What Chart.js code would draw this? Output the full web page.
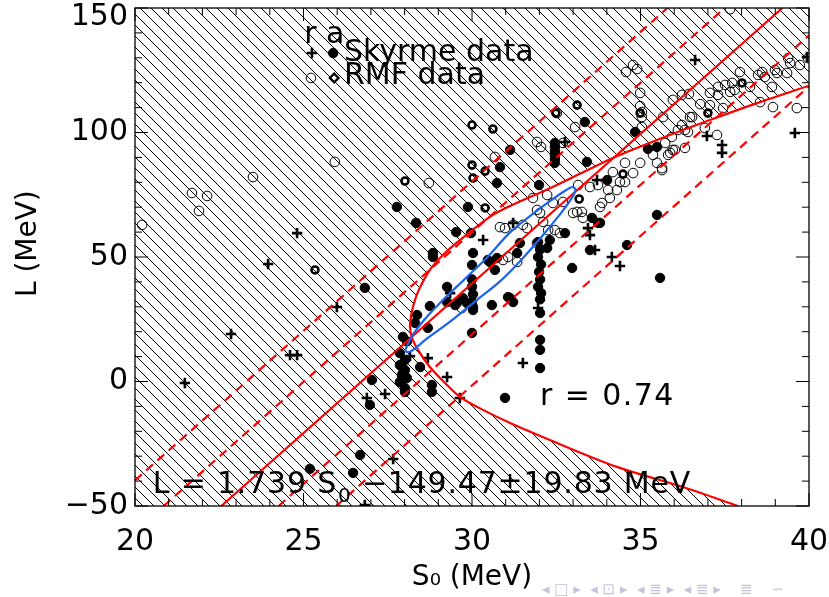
<!DOCTYPE html>
<html>
<head>
<meta charset="utf-8">
<script src="https://cdn.jsdelivr.net/npm/chart.js@4.4.1/dist/chart.umd.min.js"></script>
<style>
html, body { margin: 0; padding: 0; background: #fff; }
</style>
</head>
<body>
<canvas id="myChart" width="829" height="597"></canvas>
<script>
// axis ticks
const S0_TICKS = [20, 25, 30, 35, 40]
const S0_MINOR = [21, 22, 23, 24, 26, 27, 28, 29, 31, 32, 33, 34, 36, 37, 38, 39]
const L_TICKS = [-50, 0, 50, 100, 150]
const L_TICK_LABELS = ['−50', '0', '50', '100', ['', '150']]
const L_MINOR = [-40, -30, -20, -10, 10, 20, 30, 40, 60, 70, 80, 90, 110, 120, 130, 140]

// Skyrme data, r column (plus signs)
const skyrmeR = [
    [21.48, -0.6], [22.85, 19.1], [24.60, 10.6], [24.81, 10.6], [23.95, 47.2], [24.81, 59.6],
    [25.99, 29.9], [26.88, -6.6], [27.42, -5.0], [27.66, -31.1], [26.82, -49.6], [29.26, 1.8],
    [29.64, -6.6], [28.69, 9.4], [28.16, 10.2], [31.51, 7.4], [31.96, 29.5], [29.35, 35.5],
    [30.33, 56.8], [31.22, 63.7], [33.44, 61.6], [33.50, 58.8], [33.65, 52.8], [34.15, 50.0],
    [34.39, 46.4], [32.76, 96.2], [33.71, 80.9], [36.62, 129.1], [36.97, 98.6], [37.42, 95.0],
    [37.42, 91.8], [39.58, 99.8], [39.94, 130.3]
]

// Skyrme data, a column (filled circles)
const skyrmeA = [
    [31.13, 93.0], [30.83, 86.1], [30.74, 79.7], [31.99, 78.9], [33.41, 88.2], [33.35, 104.2],
    [34.84, 100.2], [35.22, 93.4], [35.49, 94.2], [34.01, 80.9],
    [32.46, 95.8], [32.46, 94.2], [32.46, 92.6], [32.46, 91.0], [32.46, 89.4], [32.46, 87.8],
    [27.77, 70.1], [28.34, 63.7], [26.82, 37.6], [29.88, 70.1], [29.53, 60.0], [29.97, 59.6],
    [28.84, 51.6], [28.84, 50.0], [30.03, 51.6], [30.00, 46.8], [30.53, 48.0], [30.68, 44.8],
    [31.42, 55.6], [31.34, 51.6],
    [31.96, 56.0], [32.02, 53.0], [31.96, 50.0], [32.05, 47.0], [31.99, 44.0], [32.02, 41.0],
    [31.96, 38.0], [32.05, 35.5], [32.02, 33.0], [32.02, 27.5], [32.02, 16.7], [32.02, 12.7],
    [32.02, 5.4],
    [30.00, 41.0], [30.00, 38.0], [30.03, 35.0], [30.00, 32.0], [30.03, 29.9],
    [30.47, 48.8], [30.74, 49.6], [29.26, 38.0], [28.75, 30.3], [28.37, 26.7], [28.31, 23.5],
    [28.69, 21.5], [29.50, 30.7], [29.73, 33.5], [30.59, 30.7], [30.00, 19.5], [31.13, 33.5],
    [31.22, 31.9], [32.31, 56.8], [32.97, 45.6], [33.50, 52.8], [33.80, 63.7], [34.60, 54.8],
    [35.49, 66.9], [35.58, 41.6], [32.76, 59.6], [32.23, 53.6], [33.56, 65.7], [33.74, 63.7],
    [29.55, 31.5], [29.85, 31.5], [31.07, 33.9], [29.26, 31.9], [30.03, 28.7],
    [27.95, 17.9], [28.07, 16.1], [27.86, 11.4], [28.01, 8.6], [27.86, 6.6], [28.01, 4.6],
    [27.92, 2.6], [28.07, 1.4], [27.86, -0.2], [28.01, -2.6], [28.01, -4.2], [27.95, 3.4],
    [28.46, 5.8], [28.81, -1.4], [28.81, -4.2], [27.03, 0.6], [26.97, -9.4], [30.98, -6.6],
    [26.68, -29.5], [26.47, -36.7], [25.19, -35.1]
]

// RMF data, r column (open circles)
const rmfR = [
    [20.21, 62.9], [21.69, 75.7], [22.14, 74.5], [21.90, 68.5], [23.50, 82.1], [25.93, 88.2],
    [28.72, 79.7], [30.68, 90.2], [31.93, 96.2], [32.05, 94.2], [31.81, 73.7], [32.23, 74.9],
    [30.98, 61.6], [31.22, 62.9], [31.51, 62.9], [31.63, 61.6], [31.07, 50.0], [31.34, 48.0],
    [31.93, 55.6], [32.02, 67.7], [32.11, 64.1], [29.70, 29.5], [30.83, 62.0], [30.92, 48.8],
    [31.93, 68.9], [32.26, 60.8],
    [32.52, 107.8], [33.06, 102.2], [32.70, 95.8], [35.04, 106.2], [35.04, 102.2], [36.53, 106.2],
    [36.23, 103.0], [36.32, 101.0], [36.91, 101.8], [35.73, 95.8], [35.88, 91.8], [36.02, 93.0],
    [36.32, 93.8], [34.54, 87.8], [34.99, 87.8], [35.49, 87.8], [35.64, 84.9], [34.18, 84.1],
    [34.78, 83.7], [34.39, 80.1], [34.54, 80.1], [34.04, 76.9], [34.30, 76.9], [33.74, 78.9],
    [33.50, 78.1], [33.15, 78.9], [34.09, 73.7], [33.86, 71.7], [33.80, 70.1], [33.12, 68.1],
    [33.26, 68.1], [33.00, 67.7], [33.29, 65.7], [32.40, 71.7], [32.70, 72.1], [32.46, 60.8],
    [32.61, 59.6],
    [34.57, 124.3], [34.78, 127.1], [34.90, 125.5], [34.99, 115.9], [34.99, 110.6], [35.04, 108.2],
    [35.67, 106.2], [35.96, 113.1], [36.23, 115.1], [36.44, 115.5], [36.47, 106.2], [36.11, 101.0],
    [36.41, 100.2], [35.93, 98.2], [35.96, 93.0], [35.82, 91.0], [35.37, 91.0], [35.64, 85.7],
    [36.77, 111.4], [37.06, 115.9], [37.06, 111.0], [37.30, 115.1], [37.30, 118.3], [37.51, 119.1],
    [37.72, 119.9], [37.66, 116.3], [37.80, 117.1], [37.45, 109.8], [37.27, 99.0], [37.95, 124.3],
    [38.25, 118.3], [38.49, 123.1], [38.61, 124.3], [38.69, 122.3], [38.90, 118.3], [38.93, 110.2],
    [38.99, 125.1], [39.05, 123.9], [39.35, 123.9], [39.38, 129.9], [39.44, 127.9], [39.73, 127.1],
    [39.64, 109.8], [38.55, 112.2], [39.97, 129.9], [37.66, 149.5]
]

// RMF data, a column (thick circles)
const rmfA = [
    [30.00, 103.0], [30.62, 101.4], [28.01, 80.5], [30.00, 86.9], [30.39, 84.5], [30.03, 81.7],
    [30.39, 69.7], [25.34, 44.8], [33.18, 73.3], [34.48, 83.3], [33.12, 111.0], [32.49, 107.8],
    [38.01, 119.9], [37.00, 107.8], [34.99, 107.8]
]

// fitted line and the +-1, +-2 sigma lines (end points)
const lineFit = [[22.56, -50], [39.21, 150]]
const linePlus1 = [[20.85, -50], [37.50, 150]]
const linePlus2 = [[20.00, -39.7], [35.80, 150]]
const lineMinus1 = [[24.26, -50], [40.00, 139.0]]
const lineMinus2 = [[25.97, -50], [40.00, 118.5]]

// red boundary curve, lower branch bottom -> vertex -> upper branch
const boundary = [
    [37.89, -50.0], [36.26, -42.4], [34.30, -34.3], [32.31, -23.5], [31.13, -16.7], [30.15, -10.2],
    [29.64, -6.2], [29.20, -0.6], [28.75, 5.8], [28.40, 12.7], [28.22, 17.5], [28.16, 22.0],
    [28.20, 27.0], [28.28, 31.5], [28.42, 36.7], [28.75, 44.8], [29.15, 51.0], [29.64, 56.8],
    [30.53, 66.1], [31.13, 70.5], [31.72, 74.1], [32.31, 77.6], [33.20, 83.4], [34.18, 89.8],
    [35.49, 97.0], [37.06, 105.0], [38.50, 112.0], [40.00, 118.8]
]

// corners that close the hatched region
const hatchCorners = [[40, 150], [20, 150], [20, -50]]

// blue contour
const contour = [
    [28.03, 13.0], [28.25, 18.9], [28.60, 25.0], [29.05, 31.5], [29.85, 42.0], [30.45, 49.8],
    [31.13, 59.9], [31.72, 66.4], [32.31, 72.4], [32.82, 77.1], [32.99, 78.1], [33.07, 76.8],
    [32.91, 72.6], [32.52, 65.6], [32.02, 57.4], [31.42, 48.2], [30.83, 40.2], [30.15, 32.8],
    [29.35, 24.0], [28.66, 17.2], [28.22, 12.4], [28.05, 11.9], [28.03, 13.0]
]

const FONT = 'DejaVu Sans'
const RED = '#ff0000'
const BLUE = '#1b62ee'

const toPts = arr => arr.map(([x, y]) => ({x: x, y: y}))

const styleSkyrmeR = {pointStyle: 'cross', radius: 5.2, borderWidth: 2.6, fill: false}
const styleSkyrmeA = {pointStyle: 'circle', radius: 4.7, borderWidth: 1, fill: true}
const styleRmfR = {pointStyle: 'circle', radius: 4.8, borderWidth: 1, fill: false}
const styleRmfA = {pointStyle: 'circle', radius: 3.5, borderWidth: 2.6, fill: false}
const styleRmfALegend = {pointStyle: 'rectRot', radius: 4.3, borderWidth: 2.3, fill: false}

function hatchPattern() {
    const s = 11
    const c = document.createElement('canvas')
    c.width = s
    c.height = s
    const g = c.getContext('2d')
    g.strokeStyle = '#000'
    g.lineWidth = 1
    g.beginPath()
    for (const k of [-1, 0, 1]) {
        g.moveTo(k * s, 0)
        g.lineTo(k * s + s, s)
    }
    g.stroke()
    return g.createPattern(c, 'repeat')
}

function pointSet(data, st, order) {
    return {
        data: toPts(data),
        showLine: false,
        pointStyle: st.pointStyle,
        pointRadius: st.radius,
        pointBorderWidth: st.borderWidth,
        pointBorderColor: '#000',
        pointBackgroundColor: st.fill ? '#000' : 'rgba(0,0,0,0)',
        order: order
    }
}

function lineSet(data, color, width, dash, order, tension) {
    return {
        data: toPts(data),
        showLine: true,
        borderColor: color,
        borderWidth: width,
        borderDash: dash,
        pointRadius: 0,
        fill: false,
        tension: tension || 0,
        order: order
    }
}

function drawMark(ctx, st, x, y) {
    ctx.save()
    ctx.strokeStyle = '#000'
    ctx.fillStyle = st.fill ? '#000' : 'rgba(0,0,0,0)'
    ctx.lineWidth = st.borderWidth
    if (Chart.helpers && Chart.helpers.drawPoint) {
        Chart.helpers.drawPoint(ctx, {pointStyle: st.pointStyle, radius: st.radius, rotation: 0, borderWidth: st.borderWidth}, x, y)
    } else {
        ctx.beginPath()
        ctx.arc(x, y, st.radius, 0, Math.PI * 2)
        if (st.fill) ctx.fill()
        ctx.stroke()
    }
    ctx.restore()
}

// frame, inward ticks and the texts written in data coordinates
const framePlugin = {
    id: 'frame',
    afterDraw(chart) {
        const ctx = chart.ctx
        const a = chart.chartArea
        const sx = chart.scales.x
        const sy = chart.scales.y
        ctx.save()
        ctx.strokeStyle = '#000'
        ctx.lineWidth = 1.3
        ctx.strokeRect(a.left, a.top, a.right - a.left, a.bottom - a.top)

        ctx.lineWidth = 1
        ctx.beginPath()
        const xt = (v, len) => {
            const px = sx.getPixelForValue(v)
            ctx.moveTo(px, a.bottom); ctx.lineTo(px, a.bottom - len)
            ctx.moveTo(px, a.top); ctx.lineTo(px, a.top + len)
        }
        const yt = (v, len) => {
            const py = sy.getPixelForValue(v)
            ctx.moveTo(a.left, py); ctx.lineTo(a.left + len, py)
            ctx.moveTo(a.right, py); ctx.lineTo(a.right - len, py)
        }
        S0_TICKS.forEach(v => xt(v, 13))
        S0_MINOR.forEach(v => xt(v, 7))
        L_TICKS.forEach(v => yt(v, 13))
        L_MINOR.forEach(v => yt(v, 7))
        ctx.stroke()

        // legend
        const X = v => sx.getPixelForValue(v)
        const Y = v => sy.getPixelForValue(v)
        ctx.fillStyle = '#000'
        ctx.textBaseline = 'alphabetic'
        ctx.textAlign = 'left'
        ctx.font = '30px "' + FONT + '"'
        ctx.fillText('r a', X(25.02), Y(135.9))
        drawMark(ctx, styleSkyrmeR, X(25.25), Y(131.9))
        drawMark(ctx, styleSkyrmeA, X(25.88), Y(131.9))
        drawMark(ctx, styleRmfR, X(25.22), Y(121.9))
        drawMark(ctx, styleRmfALegend, X(25.91), Y(121.9))
        ctx.fillStyle = '#000'
        ctx.fillText('Skyrme data', X(26.20), Y(128.7))
        ctx.fillText('RMF data', X(26.20), Y(119.5))

        ctx.letterSpacing = '1.4px'
        ctx.fillText('r = 0.74', X(32.02), Y(-9.4))

        // fitted relation with subscript
        ctx.letterSpacing = '0.8px'
        let x0 = X(20.53)
        const yb = Y(-44.8)
        const p1 = 'L = 1.739 S'
        ctx.fillText(p1, x0, yb)
        x0 += ctx.measureText(p1).width + 1
        ctx.font = '20px "' + FONT + '"'
        ctx.fillText('0', x0, yb + 9)
        x0 += ctx.measureText('0').width
        ctx.font = '30px "' + FONT + '"'
        ctx.fillText(' −149.47±19.83 MeV', x0, yb)
        ctx.letterSpacing = '0px'

        // navigation symbols of the slide
        ctx.fillStyle = '#c4c4dc'
        ctx.font = '15px "' + FONT + '"'
        ctx.fillText('◂ □ ▸  ◂ ⊡ ▸  ◂ ≣ ▸  ◂ ≣ ▸    ≣    ∽', 542, 594)
        ctx.restore()
    }
}

const datasets = [
    lineSet(contour, BLUE, 2.2, [], 1, 0.4),
    lineSet(boundary, RED, 2.2, [], 2, 0.3),
    lineSet(lineFit, RED, 2.2, [], 2),
    lineSet(linePlus1, RED, 2.2, [9, 6], 3),
    lineSet(linePlus2, RED, 2.2, [9, 6], 3),
    lineSet(lineMinus1, RED, 2.2, [9, 6], 3),
    lineSet(lineMinus2, RED, 2.2, [9, 6], 3),
    pointSet(skyrmeR, styleSkyrmeR, 5),
    pointSet(skyrmeA, styleSkyrmeA, 5),
    pointSet(rmfR, styleRmfR, 5),
    pointSet(rmfA, styleRmfA, 5),
    {
        data: toPts(boundary.concat(hatchCorners, [boundary[0]])),
        showLine: true,
        borderWidth: 0,
        borderColor: 'rgba(0,0,0,0)',
        backgroundColor: hatchPattern(),
        pointRadius: 0,
        tension: 0,
        fill: 'shape',
        order: 10
    }
]

const ctx = document.getElementById('myChart').getContext('2d')
const chart = new Chart(ctx, {
    type: 'line',
    data: {datasets: datasets},
    options: {
        responsive: false,
        animation: false,
        events: [],
        layout: {padding: {left: 0, right: 20, top: 8, bottom: 0}},
        plugins: {legend: {display: false}, tooltip: {enabled: false}},
        scales: {
            x: {
                type: 'linear',
                min: 20,
                max: 40,
                grid: {display: false, drawTicks: false},
                border: {display: false},
                afterBuildTicks: s => { s.ticks = S0_TICKS.map(v => ({value: v})) },
                afterFit: s => { s.height = 91; s.paddingLeft = 0; s.paddingRight = 0 },
                ticks: {
                    autoSkip: false, maxRotation: 0, padding: 18, color: '#000',
                    font: {family: FONT, size: 30},
                    callback: v => String(v)
                },
                title: {
                    display: true, text: 'S₀ (MeV)', color: '#000',
                    font: {family: FONT, size: 28}, padding: {top: 0, bottom: 2}
                }
            },
            y: {
                type: 'linear',
                min: -50,
                max: 150,
                grid: {display: false, drawTicks: false},
                border: {display: false},
                afterBuildTicks: s => { s.ticks = L_TICKS.map(v => ({value: v})) },
                afterFit: s => { s.width = 135; s.paddingTop = 0; s.paddingBottom = 0 },
                ticks: {
                    autoSkip: false, padding: 7, color: '#000',
                    font: {family: FONT, size: 30, lineHeight: 0.6},
                    callback: v => L_TICK_LABELS[L_TICKS.indexOf(v)]
                },
                title: {
                    display: true, text: '   L (MeV)', color: '#000',
                    font: {family: FONT, size: 28}, padding: {top: 12, bottom: 0}
                }
            }
        }
    },
    plugins: [framePlugin]
})
</script>
</body>
</html>
